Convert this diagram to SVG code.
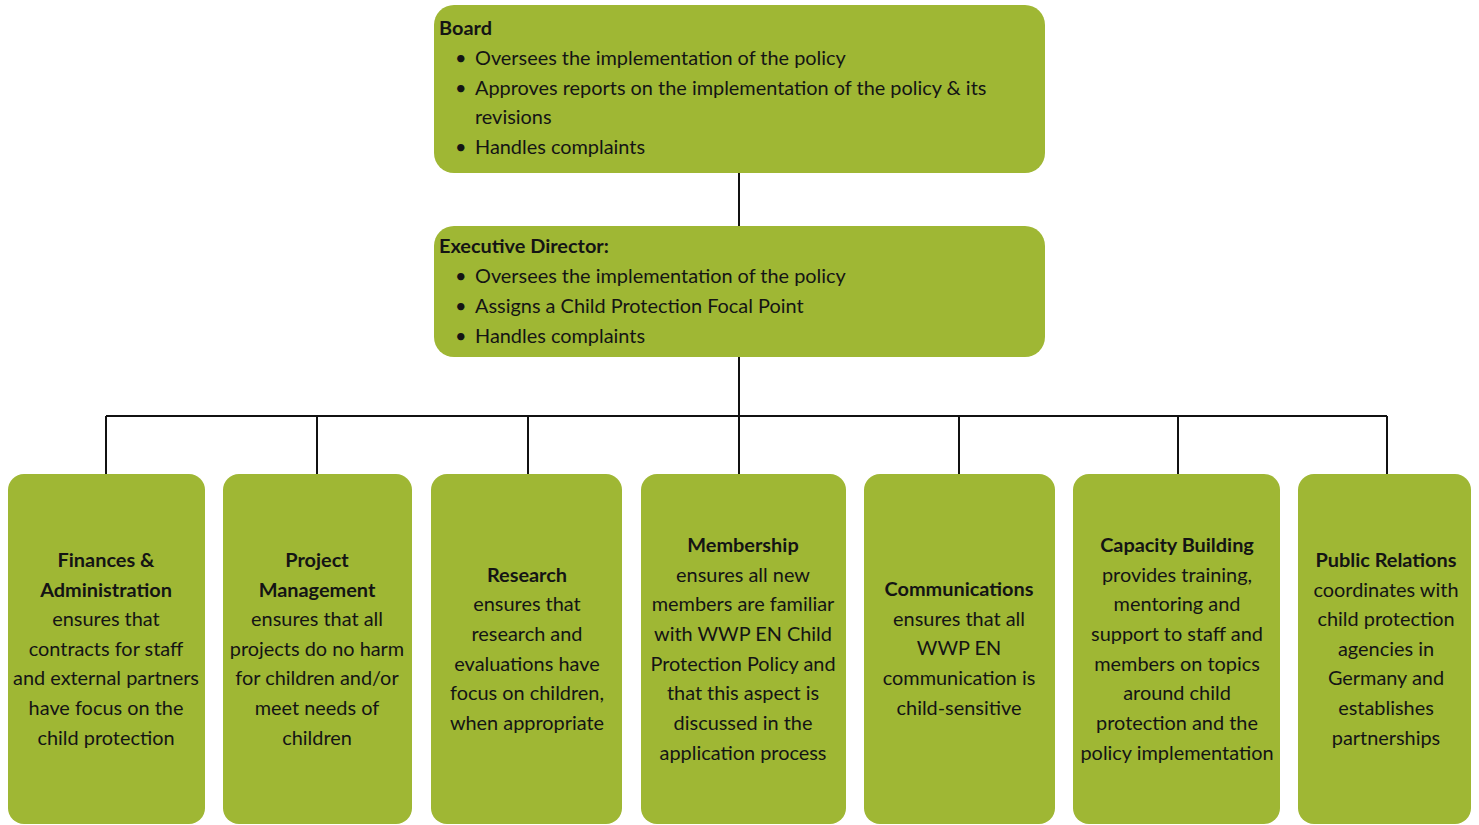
<svg xmlns="http://www.w3.org/2000/svg" width="1479" height="825" viewBox="0 0 1479 825">
<style>
.box{fill:#9fb734;}
text{font-family:Lato,"Liberation Sans",sans-serif;font-size:19.9px;fill:#141414;}
.b{font-weight:bold;}
.c{text-anchor:middle;}
.ln{stroke:#111;stroke-width:2;fill:none;}
</style>
<rect width="1479" height="825" fill="#fff"/>
<g id="connectors">
<path class="ln" d="M739 173V226M739 357V416M106 416H1387M106 416V474M317 416V474M528 416V474M739 416V474M959 416V474M1178 416V474M1387 416V474"/>
</g>
<g id="board">
<rect class="box" x="434" y="5" width="611" height="168" rx="20"/>
<text x="439" y="35" class="b">Board</text>
<text x="455" y="65">•</text><text x="475" y="65">Oversees the implementation of the policy</text>
<text x="455" y="95">•</text><text x="475" y="95">Approves reports on the implementation of the policy &amp; its</text>
<text x="475" y="124">revisions</text>
<text x="455" y="154">•</text><text x="475" y="154">Handles complaints</text>
</g>
<g id="exec">
<rect class="box" x="434" y="226" width="611" height="131" rx="20"/>
<text x="439" y="253" class="b">Executive Director:</text>
<text x="455" y="283">•</text><text x="475" y="283">Oversees the implementation of the policy</text>
<text x="455" y="313">•</text><text x="475" y="313">Assigns a Child Protection Focal Point</text>
<text x="455" y="343">•</text><text x="475" y="343">Handles complaints</text>
</g>
<g id="finances">
<rect class="box" x="8" y="474" width="197" height="350" rx="16"/>
<text class="c"><tspan class="b" x="106" y="567">Finances &amp;</tspan><tspan class="b" x="106" y="597">Administration</tspan><tspan x="106" y="626">ensures that</tspan><tspan x="106" y="656">contracts for staff</tspan><tspan x="106" y="685">and external partners</tspan><tspan x="106" y="715">have focus on the</tspan><tspan x="106" y="745">child protection</tspan></text>
</g>
<g id="project">
<rect class="box" x="223" y="474" width="189" height="350" rx="16"/>
<text class="c"><tspan class="b" x="317" y="567">Project</tspan><tspan class="b" x="317" y="597">Management</tspan><tspan x="317" y="626">ensures that all</tspan><tspan x="317" y="656">projects do no harm</tspan><tspan x="317" y="685">for children and/or</tspan><tspan x="317" y="715">meet needs of</tspan><tspan x="317" y="745">children</tspan></text>
</g>
<g id="research">
<rect class="box" x="431" y="474" width="191" height="350" rx="16"/>
<text class="c"><tspan class="b" x="527" y="582">Research</tspan><tspan x="527" y="611">ensures that</tspan><tspan x="527" y="641">research and</tspan><tspan x="527" y="671">evaluations have</tspan><tspan x="527" y="700">focus on children,</tspan><tspan x="527" y="730">when appropriate</tspan></text>
</g>
<g id="membership">
<rect class="box" x="641" y="474" width="205" height="350" rx="16"/>
<text class="c"><tspan class="b" x="743" y="552">Membership</tspan><tspan x="743" y="582">ensures all new</tspan><tspan x="743" y="611">members are familiar</tspan><tspan x="743" y="641">with WWP EN Child</tspan><tspan x="743" y="671">Protection Policy and</tspan><tspan x="743" y="700">that this aspect is</tspan><tspan x="743" y="730">discussed in the</tspan><tspan x="743" y="760">application process</tspan></text>
</g>
<g id="communications">
<rect class="box" x="864" y="474" width="191" height="350" rx="16"/>
<text class="c"><tspan class="b" x="959" y="596">Communications</tspan><tspan x="959" y="626">ensures that all</tspan><tspan x="959" y="655">WWP EN</tspan><tspan x="959" y="685">communication is</tspan><tspan x="959" y="715">child-sensitive</tspan></text>
</g>
<g id="capacity">
<rect class="box" x="1073" y="474" width="207" height="350" rx="16"/>
<text class="c"><tspan class="b" x="1177" y="552">Capacity Building</tspan><tspan x="1177" y="582">provides training,</tspan><tspan x="1177" y="611">mentoring and</tspan><tspan x="1177" y="641">support to staff and</tspan><tspan x="1177" y="671">members on topics</tspan><tspan x="1177" y="700">around child</tspan><tspan x="1177" y="730">protection and the</tspan><tspan x="1177" y="760">policy implementation</tspan></text>
</g>
<g id="public">
<rect class="box" x="1298" y="474" width="173" height="350" rx="16"/>
<text class="c"><tspan class="b" x="1386" y="567">Public Relations</tspan><tspan x="1386" y="597">coordinates with</tspan><tspan x="1386" y="626">child protection</tspan><tspan x="1386" y="656">agencies in</tspan><tspan x="1386" y="685">Germany and</tspan><tspan x="1386" y="715">establishes</tspan><tspan x="1386" y="745">partnerships</tspan></text>
</g>
</svg>
